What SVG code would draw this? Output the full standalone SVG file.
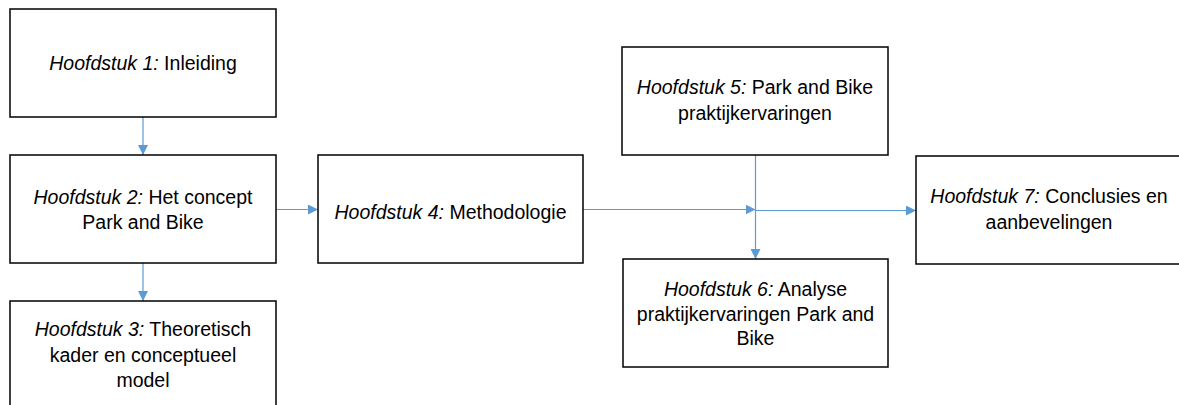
<svg xmlns="http://www.w3.org/2000/svg" width="1179" height="405" viewBox="0 0 1179 405">
  <style>
    .box { fill: #ffffff; stroke: #000000; stroke-width: 1.5; }
    .lbl { font-family: "Liberation Sans", Arial, sans-serif; font-size: 19.5px; fill: #000000; text-anchor: middle; }
    .it { font-style: italic; }
    .conn { fill: none; stroke: #5B9BD5; stroke-width: 1.2; }
  </style>
  <defs>
    <marker id="arrow" viewBox="0 0 10 10" refX="10" refY="5" markerWidth="10" markerHeight="10" markerUnits="userSpaceOnUse" orient="auto">
      <path d="M0,0 L10,5 L0,10 Z" fill="#5B9BD5"/>
    </marker>
  </defs>
  <rect width="1179" height="405" fill="#ffffff"/>

  <g id="connectors">
    <line class="conn" x1="143" y1="117" x2="143" y2="155" marker-end="url(#arrow)"/>
    <line class="conn" x1="143" y1="263" x2="143" y2="301" marker-end="url(#arrow)"/>
    <line class="conn" x1="276" y1="209.5" x2="318" y2="209.5" marker-end="url(#arrow)"/>
    <line class="conn" x1="583" y1="209.5" x2="755.5" y2="209.5" marker-end="url(#arrow)"/>
    <line class="conn" x1="755.5" y1="155" x2="755.5" y2="259" marker-end="url(#arrow)"/>
    <line class="conn" x1="755.5" y1="210.5" x2="916" y2="210.5" marker-end="url(#arrow)"/>
  </g>

  <g id="h1">
    <rect class="box" x="10" y="9" width="266" height="108"/>
    <text class="lbl" x="143" y="70"><tspan class="it">Hoofdstuk 1:</tspan> Inleiding</text>
  </g>
  <g id="h2">
    <rect class="box" x="10" y="155" width="266" height="108"/>
    <text class="lbl" x="143" y="204"><tspan class="it">Hoofdstuk 2:</tspan> Het concept</text>
    <text class="lbl" x="143" y="229">Park and Bike</text>
  </g>
  <g id="h3">
    <rect class="box" x="10" y="301" width="266" height="112"/>
    <text class="lbl" x="143" y="336"><tspan class="it">Hoofdstuk 3:</tspan> Theoretisch</text>
    <text class="lbl" x="143" y="362">kader en conceptueel</text>
    <text class="lbl" x="143" y="387">model</text>
  </g>
  <g id="h4">
    <rect class="box" x="318" y="155" width="265" height="108"/>
    <text class="lbl" x="450.5" y="219"><tspan class="it">Hoofdstuk 4:</tspan> Methodologie</text>
  </g>
  <g id="h5">
    <rect class="box" x="622" y="47" width="266" height="108"/>
    <text class="lbl" x="755" y="94"><tspan class="it">Hoofdstuk 5:</tspan> Park and Bike</text>
    <text class="lbl" x="755" y="120">praktijkervaringen</text>
  </g>
  <g id="h6">
    <rect class="box" x="623" y="259" width="265" height="108"/>
    <text class="lbl" x="755.5" y="296"><tspan class="it">Hoofdstuk 6:</tspan> Analyse</text>
    <text class="lbl" x="755.5" y="321">praktijkervaringen Park and</text>
    <text class="lbl" x="755.5" y="345">Bike</text>
  </g>
  <g id="h7">
    <rect class="box" x="916" y="156" width="266" height="108"/>
    <text class="lbl" x="1049" y="203"><tspan class="it">Hoofdstuk 7:</tspan> Conclusies en</text>
    <text class="lbl" x="1049" y="229">aanbevelingen</text>
  </g>
</svg>
